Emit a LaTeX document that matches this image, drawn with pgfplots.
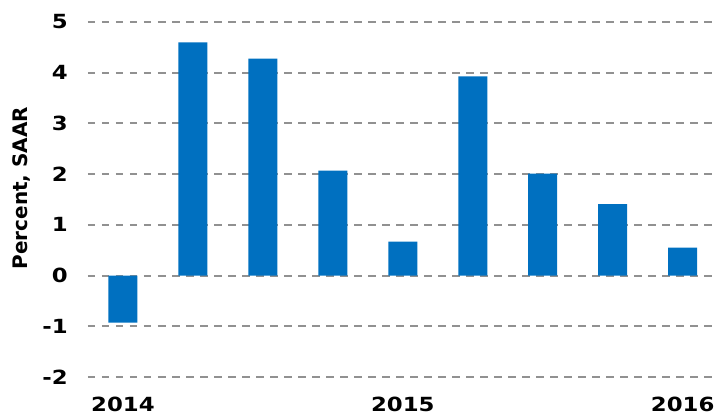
\documentclass[border=0pt]{standalone}
\usepackage{fontspec}
\setmainfont{DejaVu Sans}
\newfontfamily\tickfont{DejaVu Sans}[FakeStretch=1.17]
\usepackage{pgfplots}
\pgfplotsset{compat=1.18}
\definecolor{barblue}{RGB}{0,112,192}
\definecolor{gridgray}{RGB}{145,145,145}
\begin{document}
\begin{tikzpicture}
\begin{axis}[
  scale only axis,
  width=624pt, height=355pt,
  xmin=-0.5, xmax=8.42,
  ymin=-2, ymax=5,
  ytick={-2,-1,0,1,2,3,4,5},
  yticklabels={-2,-1,0,1,2,3,4,5},
  xtick={0,4,8},
  xticklabels={2014,2015,2016},
  axis line style={draw=none},
  major tick length=0pt,
  ymajorgrids,
  major grid style={gridgray, line width=1.9pt, dash pattern=on 7.5pt off 6.5pt},
  tick label style={font=\tickfont\bfseries\fontsize{19.5}{22}\selectfont, inner sep=0pt},
  yticklabel style={xshift=-20pt},
  xticklabel style={yshift=-20pt},
  ylabel={Percent, SAAR},
  every axis y label/.style={at={(rel axis cs:-0.106,0.532)}, rotate=90, anchor=center, font=\bfseries\fontsize{20}{24}\selectfont},
  clip=false,
]
\addplot[ybar, bar width=29pt, bar shift=0pt, fill=barblue, draw=none]
  coordinates {(0,-0.93) (1,4.60) (2,4.28) (3,2.07) (4,0.67) (5,3.93) (6,2.01) (7,1.41) (8,0.55)};
\path (rel axis cs:0,0) ++(-88pt,-39pt) rectangle ++(725pt,416pt);
\end{axis}
\end{tikzpicture}
\end{document}
